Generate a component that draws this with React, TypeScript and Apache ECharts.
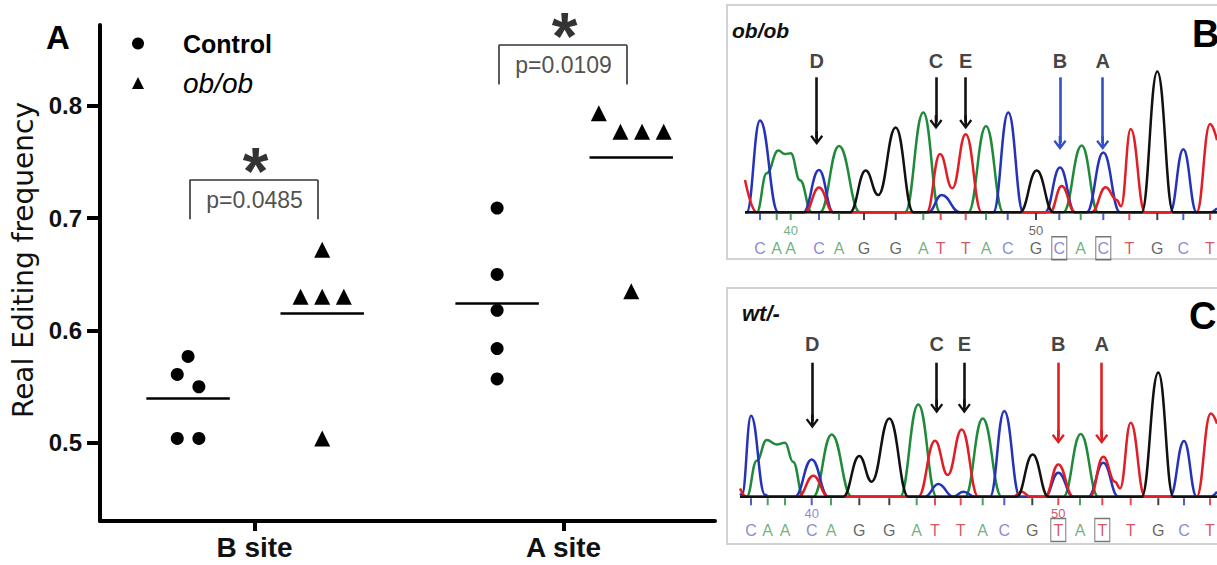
import React, { useEffect, useRef } from 'react';
import * as echarts from 'echarts';

const FONT = '"Liberation Sans", Arial, Helvetica, sans-serif';

// ---------------- Panel A data ----------------
const sites = ['B site', 'A site'];
const controlB = [0.577, 0.561, 0.55, 0.504, 0.504];
const obobB = [0.672, 0.63, 0.63, 0.63, 0.504];
const controlA = [0.709, 0.65, 0.618, 0.584, 0.557];
const obobA = [0.7935, 0.777, 0.777, 0.777, 0.635];
const controlMeans = [0.54, 0.624];
const obobMeans = [0.615, 0.754];
const pLabels = ['p=0.0485', 'p=0.0109'];
const bracketTops = [0.734, 0.854];
const bracketFeet = [0.699, 0.819];
const yTickValues = [0.5, 0.6, 0.7, 0.8];
// column-scatter slots (Prism-like point spreading)
const slotsControlB = [0, -1, 1, -1, 1];
const slotsObobB = [0, -2, 0, 2, 0];
const slotsControlA = [0, 0, 0, 0, 0];
const slotsObobA = [-3, -1, 1, 3, 0];

// ---------------- Panel B (ob/ob) chromatogram: [scan, signal] ----------------
const greenB = [[25, 0], [36.7, 0], [46.7, 39], [58.3, 61.7], [65, 58.3], [70.7, 59], [80, 32], [91.7, 0], [100, 0], [119, 66.3], [140, 0], [185, 0], [203.3, 99.7], [220, 0], [248.3, 0], [266, 86.3], [283.3, 0], [343.3, 0], [361.7, 66.7], [378.3, 0], [497, 0]];
const blueB = [[25, 0], [26.7, 0], [40, 91.7], [58.3, 0], [83.3, 0], [99, 42.3], [113.3, 0], [208.3, 0], [221.7, 17.3], [240, 0], [273.3, 0], [288.3, 99.7], [303.3, 0], [325, 0], [340, 44.7], [355, 0], [366.7, 0], [383.3, 59.7], [400, 0], [450, 0], [463.3, 63], [476.7, 0], [490, 0], [497, 4]];
const blackB = [[25, 0], [130, 0], [145.7, 41.7], [158.3, 17.3], [175.7, 84.7], [193.3, 0], [300, 0], [316.7, 41.7], [333.3, 0], [421.7, 0], [437.3, 140.7], [453.3, 0], [497, 0]];
const redB = [[25, 32.3], [36.7, 0], [85, 0], [99, 24.7], [113.3, 0], [206.7, 0], [220, 58.3], [232.3, 24], [245.7, 78], [261.7, 0], [330, 0], [341.7, 26.3], [355, 0], [371.7, 0], [385.7, 25], [396.7, 12.3], [401, 6], [410.7, 83.3], [425, 0], [476.7, 0], [490, 88.3], [497, 72]];
const callsB = 'CAACAGGATTACGCACTGCT';
const callScansB = [40, 56.7, 70.7, 99, 119, 144, 175.7, 203.3, 220.7, 245.7, 266, 287.7, 316, 339.3, 360.7, 383.3, 409.3, 437.3, 463.3, 490];
const numbersB = [{ text: '40', index: 2 }, { text: '50', index: 12 }];
const boxedB = [13, 15];
const arrowsB = [
  { label: 'D', scan: 96.7, tip: 67.3 },
  { label: 'C', scan: 216, tip: 83 },
  { label: 'E', scan: 245.7, tip: 83 },
  { label: 'B', scan: 340, tip: 62.3 },
  { label: 'A', scan: 382.7, tip: 62.3 },
];

// ---------------- Panel C (wt/-) chromatogram ----------------
const greenC = [[20, 0], [26.7, 0], [36.7, 36], [46.7, 56.7], [56.7, 52.3], [65, 54], [73, 35], [83.3, 0], [93.3, 0], [111.7, 62.3], [131.7, 0], [180, 0], [198.3, 92.3], [216.7, 0], [245, 0], [262.7, 78.3], [281.7, 0], [343.3, 0], [360.7, 62.7], [378.3, 0], [497, 0]];
const blueC = [[20, 3], [22, 2], [31, 81], [45, 2], [48.3, 0], [75, 0], [91.7, 37.3], [108.3, 0], [205, 0], [218.3, 12.7], [233.3, 0], [243.3, 5], [255, 0], [270, 0], [284.3, 85.7], [300, 0], [325, 0], [338.3, 24], [353.3, 0], [368.3, 0], [383.3, 34], [398.3, 0], [450, 0], [464, 55.7], [476.7, 0], [490, 0], [497, 5]];
const blackC = [[20, 0], [123.3, 0], [139.3, 40.7], [151.7, 15], [169.3, 78.3], [188.3, 0], [296.7, 0], [312.7, 42.3], [328.3, 0], [421.7, 0], [438.3, 124.3], [453.3, 0], [497, 0]];
const redC = [[20, 8.3], [26.7, 0], [78.3, 0], [93.3, 21], [108.3, 0], [198.3, 0], [215, 56], [227.7, 21.7], [241.7, 67.3], [258.3, 0], [293.3, 0], [301.7, 5], [310, 0], [325, 0], [338.3, 32.3], [353.3, 0], [370, 0], [383.3, 40], [395, 15], [400, 8.3], [410.7, 74], [425, 0], [476.7, 0], [490.7, 83.3], [497, 73]];
const callsC = 'CAACAGGATTACGTATTGCT';
const callScansC = [31, 47.7, 65, 91.7, 111, 139.3, 169.3, 196.7, 215, 240.7, 262.7, 284.3, 312.3, 338.3, 360, 382.3, 410.7, 438.3, 464, 490];
const numbersC = [{ text: '40', index: 3 }, { text: '50', index: 13 }];
const boxedC = [13, 15];
const arrowsC = [
  { label: 'D', scan: 92.3, tip: 68.3 },
  { label: 'C', scan: 216.7, tip: 83.3 },
  { label: 'E', scan: 244.3, tip: 83.3 },
  { label: 'B', scan: 338.3, tip: 52.7 },
  { label: 'A', scan: 381.7, tip: 52.7 },
];
const editedSites = ['A', 'B'];

// ---------------- styles ----------------
const traceColors: Record<string, string> = { A: '#1f8a3a', C: '#2433b8', G: '#111111', T: '#e01e26' };
const callColors: Record<string, string> = { A: '#4e9e5e', C: '#6b6bc6', G: '#3c3c3c', T: '#c42a40' };
const ARROW = 'path://M6,0 L12.5,8.6 L10.6,10 L7.3,5.4 L7.3,14 L4.7,14 L4.7,5.4 L1.4,10 L-0.5,8.6 Z';
const CONTROL_OFF = -0.215;
const OBOB_OFF = 0.219;
const SLOT = 0.035;
const MEAN_HALF = 0.135;

function groupPoints(vals: number[], slots: number[], cat: number, off: number) {
  return vals.map((v, i) => [cat + off + slots[i] * SLOT, v]);
}
function meanLine(cat: number, off: number, m: number) {
  return [{ coord: [cat + off - MEAN_HALF, m] }, { coord: [cat + off + MEAN_HALF, m] }];
}

function chromSeries(gi: number, traces: Record<string, number[][]>, calls: string, scans: number[],
  numbers: { text: string; index: number }[], boxed: number[], arrows: { label: string; scan: number; tip: number }[],
  siteColor: string, lv: { tick: number; letter: number; number: number; arrowTop: number; arrowLabel: number }) {
  const c = { xAxisIndex: gi, yAxisIndex: gi, silent: true };
  const s: any[] = [];
  ['A', 'C', 'T', 'G'].forEach((b) => {
    s.push({
      type: 'line', ...c, data: traces[b], smooth: 0.45, smoothMonotone: 'x', symbol: 'none', showSymbol: false,
      lineStyle: { color: traceColors[b], width: 2.5 }, z: 2,
    });
  });
  const bases = calls.split('');
  s.push({
    type: 'scatter', ...c, symbol: 'rect', symbolSize: [2, 7], z: 3,
    data: bases.map((b, i) => ({ value: [scans[i], lv.tick], itemStyle: { color: traceColors[b] } })),
  });
  s.push({
    type: 'scatter', ...c, symbolSize: 0, z: 4,
    label: { show: true, position: 'inside', formatter: (p: any) => p.name, fontSize: 16, fontFamily: FONT },
    data: bases.map((b, i) => ({ value: [scans[i], lv.letter], name: b, label: { color: callColors[b] } })),
  });
  s.push({
    type: 'scatter', ...c, symbolSize: 0, z: 4,
    label: { show: true, position: 'inside', formatter: (p: any) => p.name, fontSize: 13, fontFamily: FONT },
    data: numbers.map((n) => ({ value: [scans[n.index], lv.number], name: n.text, label: { color: callColors[bases[n.index]] } })),
  });
  s.push({
    type: 'scatter', ...c, symbol: 'rect', symbolSize: [15, 23], z: 4,
    itemStyle: { color: 'rgba(0,0,0,0)', borderColor: '#555', borderWidth: 1.2 },
    data: boxed.map((i) => [scans[i], lv.letter]),
  });
  s.push({
    type: 'scatter', ...c, symbolSize: 0, z: 5,
    label: { show: true, position: 'inside', formatter: (p: any) => p.name, fontSize: 20, fontWeight: 'bold', color: '#111', fontFamily: FONT },
    data: arrows.map((a) => ({ value: [a.scan, lv.arrowLabel], name: a.label })),
    markLine: {
      silent: true, symbol: ['none', ARROW], symbolSize: [13, 14], label: { show: false }, animation: false,
      data: arrows.map((a) => {
        const col = editedSites.includes(a.label) ? siteColor : '#111';
        const ls = { color: col, width: 2.6, type: 'solid' };
        return [{ coord: [a.scan, lv.arrowTop], lineStyle: ls }, { coord: [a.scan, a.tip + 7], lineStyle: ls }];
      }),
    },
  });
  return s;
}

function buildOption(): any {
  const axisBlack = '#000';
  const hiddenAxis = (gi: number, min: number, max: number) => ({
    type: 'value', gridIndex: gi, min, max, show: false, splitLine: { show: false },
  });

  const series: any[] = [
    {
      name: 'Control', type: 'scatter', xAxisIndex: 0, yAxisIndex: 0, symbol: 'circle', symbolSize: 13,
      itemStyle: { color: '#000', opacity: 1 }, silent: true,
      data: [...groupPoints(controlB, slotsControlB, 1, CONTROL_OFF), ...groupPoints(controlA, slotsControlA, 2, CONTROL_OFF)],
      markLine: {
        silent: true, symbol: ['none', 'none'], label: { show: false }, lineStyle: { color: '#000', width: 2.5, type: 'solid' },
        data: controlMeans.map((m, i) => meanLine(i + 1, CONTROL_OFF, m)),
      },
    },
    {
      name: 'ob/ob', type: 'scatter', xAxisIndex: 0, yAxisIndex: 0, symbol: 'triangle', symbolSize: 16,
      itemStyle: { color: '#000', opacity: 1 }, silent: true,
      data: [...groupPoints(obobB, slotsObobB, 1, OBOB_OFF), ...groupPoints(obobA, slotsObobA, 2, OBOB_OFF)],
      markLine: {
        silent: true, symbol: ['none', 'none'], label: { show: false }, lineStyle: { color: '#000', width: 2.5, type: 'solid' },
        data: obobMeans.map((m, i) => meanLine(i + 1, OBOB_OFF, m)),
      },
    },
    {
      type: 'scatter', xAxisIndex: 0, yAxisIndex: 0, symbolSize: 0, silent: true, clip: false,
      label: { show: true, position: 'inside', formatter: (p: any) => p.name, fontSize: 23, color: '#222', fontFamily: FONT },
      data: pLabels.map((t, i) => ({ value: [i + 1, (bracketTops[i] + bracketFeet[i]) / 2], name: t })),
      markLine: {
        silent: true, symbol: ['none', 'none'], label: { show: false }, lineStyle: { color: '#333', width: 1.6, type: 'solid' },
        data: sites.flatMap((_, i) => {
          const L = i + 1 - 0.21, R = i + 1 + 0.205, t = bracketTops[i], f = bracketFeet[i];
          return [
            [{ coord: [L, f] }, { coord: [L, t] }],
            [{ coord: [L, t] }, { coord: [R, t] }],
            [{ coord: [R, t] }, { coord: [R, f] }],
          ];
        }),
      },
    },
    {
      type: 'scatter', xAxisIndex: 0, yAxisIndex: 0, symbolSize: 0, silent: true, clip: false,
      label: { show: true, position: 'inside', formatter: (p: any) => p.name, fontSize: 66, fontWeight: 'bold', color: '#000', fontFamily: FONT, offset: [1, 12] },
      data: sites.map((_, i) => ({ value: [i + 1, bracketTops[i] + 0.019], name: '*' })),
    },
    ...chromSeries(1, { A: greenB, C: blueB, G: blackB, T: redB }, callsB, callScansB, numbersB, boxedB, arrowsB, '#3350c4',
      { tick: -4.3, letter: -36, number: -17.7, arrowTop: 135, arrowLabel: 151.3 }),
    ...chromSeries(2, { A: greenC, C: blueC, G: blackC, T: redC }, callsC, callScansC, numbersC, boxedC, arrowsC, '#e02020',
      { tick: -5, letter: -33.3, number: -16.7, arrowTop: 134, arrowLabel: 152.3 }),
  ];

  return {
    animation: false,
    backgroundColor: '#ffffff',
    textStyle: { fontFamily: FONT },
    grid: [
      { left: 100, right: 502, top: 25, bottom: 44 },
      { left: 745, right: 0, top: 12.3, height: 245 },
      { left: 740, right: 0, top: 296.7, height: 245 },
    ],
    xAxis: [
      {
        type: 'value', gridIndex: 0, min: 0.5, max: 2.49, splitLine: { show: false },
        axisLine: { show: true, lineStyle: { color: axisBlack, width: 4 } },
        axisTick: { show: true, customValues: [1, 2], length: 10, lineStyle: { color: axisBlack, width: 4 } },
        axisLabel: {
          customValues: [1, 2], formatter: (v: number) => sites[Math.round(v) - 1], fontSize: 28, fontWeight: 'bold',
          color: '#111', margin: 12, fontFamily: FONT,
        },
      },
      hiddenAxis(1, 25, 497),
      hiddenAxis(2, 20, 497),
    ],
    yAxis: [
      {
        type: 'value', gridIndex: 0, min: 0.4305, max: 0.872, splitLine: { show: false },
        axisLine: { show: true, lineStyle: { color: axisBlack, width: 4 } },
        axisTick: { show: true, customValues: yTickValues, length: 13, lineStyle: { color: axisBlack, width: 4 } },
        axisLabel: {
          customValues: yTickValues, formatter: (v: number) => v.toFixed(1), fontSize: 24, fontWeight: 'bold',
          color: '#111', margin: 18, fontFamily: FONT,
        },
        name: 'Real Editing frequency', nameLocation: 'middle', nameGap: 61,
        nameTextStyle: { fontSize: 28, color: '#111', fontFamily: '"DejaVu Sans", sans-serif', padding: [0, 0, 0, 26] },
      },
      hiddenAxis(1, -45, 200),
      hiddenAxis(2, -45, 200),
    ],
    legend: {
      data: [
        { name: 'Control', textStyle: { fontWeight: 'bold', fontSize: 25 } },
        { name: 'ob/ob', textStyle: { fontStyle: 'italic', fontSize: 28 } },
      ],
      orient: 'vertical', left: 127, top: 26, itemWidth: 12, itemHeight: 12, itemGap: 13, selectedMode: false,
      textStyle: { color: '#000', fontFamily: FONT, padding: [0, 0, 0, 34] },
    },
    graphic: [
      { type: 'rect', z: -1, shape: { x: 727, y: 5, width: 520, height: 254 }, style: { fill: 'none', stroke: '#d2d2d2', lineWidth: 2 } },
      { type: 'rect', z: -1, shape: { x: 727, y: 288, width: 520, height: 256 }, style: { fill: 'none', stroke: '#d2d2d2', lineWidth: 2 } },
      { type: 'text', x: 46, y: 37, style: { text: 'A', fontSize: 33, fontWeight: 'bold', fontFamily: FONT, fill: '#000', verticalAlign: 'middle' } },
      { type: 'text', x: 732, y: 30, style: { text: 'ob/ob', fontSize: 21, fontWeight: 'bold', fontStyle: 'italic', fontFamily: FONT, fill: '#111', verticalAlign: 'middle' } },
      { type: 'text', x: 742, y: 313, style: { text: 'wt/-', fontSize: 22, fontWeight: 'bold', fontStyle: 'italic', fontFamily: FONT, fill: '#111', verticalAlign: 'middle' } },
      { type: 'text', x: 1192, y: 34, style: { text: 'B', fontSize: 38, fontWeight: 'bold', fontFamily: FONT, fill: '#000', verticalAlign: 'middle' } },
      { type: 'text', x: 1189, y: 316, style: { text: 'C', fontSize: 38, fontWeight: 'bold', fontFamily: FONT, fill: '#000', verticalAlign: 'middle' } },
    ],
    series,
  };
}

export default function App() {
  const ref = useRef<HTMLDivElement>(null);
  useEffect(() => {
    if (!ref.current) return;
    const chart = echarts.init(ref.current, null, { renderer: 'svg' });
    chart.setOption(buildOption());
    return () => chart.dispose();
  }, []);
  return <div ref={ref} style={{ position: 'fixed', left: 0, top: 0, width: 1217, height: 565, background: '#fff' }} />;
}
